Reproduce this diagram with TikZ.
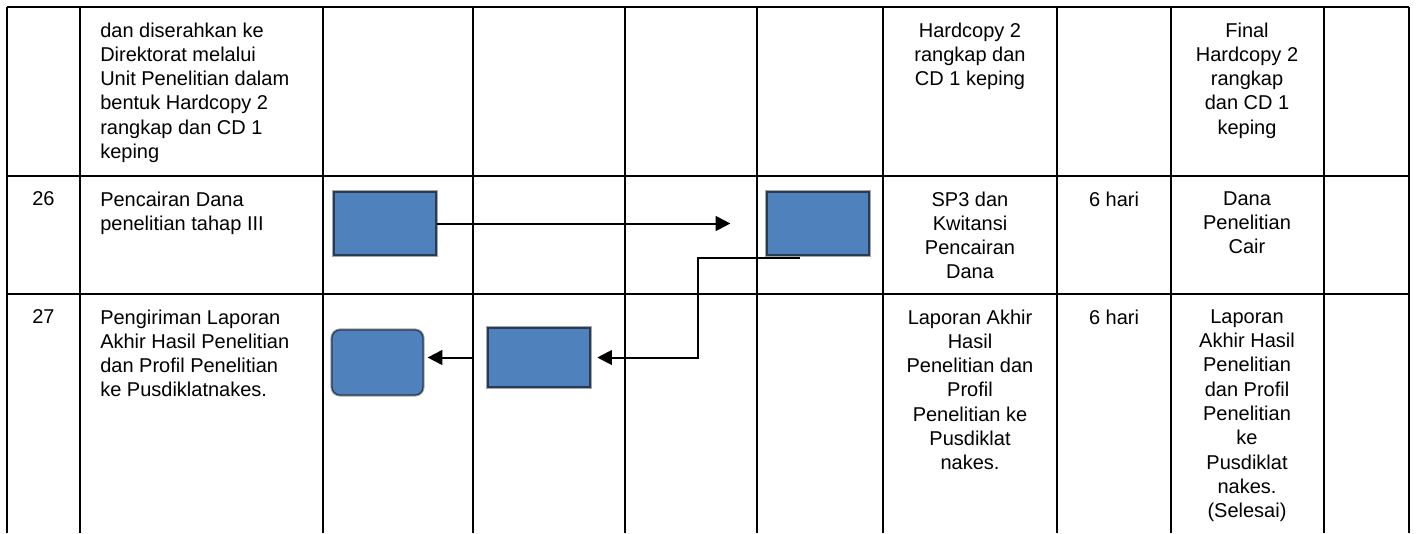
\documentclass[tikz,border=0pt]{standalone}
\usepackage{fontspec}
\setmainfont{Liberation Sans}
\usetikzlibrary{arrows.meta}

\definecolor{prosesfill}{RGB}{79,129,189}
\definecolor{prosesline}{RGB}{40,58,84}

\tikzset{
  tabel/.style={line width=1.9pt},
  teks/.style={inner sep=0pt, font=\fontsize{15}{18.2}\selectfont},
  proses/.style={draw=prosesline, fill=prosesfill, line width=0.9pt, inner sep=0pt,
    preaction={draw=black!35, line width=2.4pt},
    minimum width=76.5pt, minimum height=47.25pt},
  alur/.style={line width=1.5pt, -{Triangle[length=11pt,width=11pt]}},
}

\begin{document}
\begin{tikzpicture}[x=0.75pt,y=0.75pt,yscale=-1,xscale=1]
		\useasboundingbox (0,0) rectangle (1416,533);
		
		%Straight Lines: row borders
		\draw [tabel] (7,7) -- (1409,7) ;
		\draw [tabel] (7,176) -- (1409,176) ;
		\draw [tabel] (7,294) -- (1409,294) ;
		%Straight Lines: column borders
		\draw [tabel] (7,7) -- (7,533) ;
		\draw [tabel] (80,7) -- (80,533) ;
		\draw [tabel] (323,7) -- (323,533) ;
		\draw [tabel] (473,7) -- (473,533) ;
		\draw [tabel] (625,7) -- (625,533) ;
		\draw [tabel] (757,7) -- (757,533) ;
		\draw [tabel] (883,7) -- (883,533) ;
		\draw [tabel] (1057,7) -- (1057,533) ;
		\draw [tabel] (1171,7) -- (1171,533) ;
		\draw [tabel] (1324,7) -- (1324,533) ;
		\draw [tabel] (1409,7) -- (1409,533) ;
		
		%Shape: Rectangle (pencairan, unit)
		\node [proses] (cairA) at (385,223.5) {};
		%Shape: Rectangle (pencairan, keuangan)
		\node [proses] (cairB) at (818,223.5) {};
		%Shape: Rectangle (pengiriman)
		\node [proses, minimum height=44.25pt] (kirim) at (539,357.5) {};
		%Shape: Rounded Rectangle (selesai)
		\node [proses, rounded corners=6pt, minimum width=68.25pt, minimum height=48.75pt] (selesai) at (377.5,362.5) {};
		
		%Connectors
		\coordinate (turunA) at (800,258);
		\coordinate (turunB) at (698,258);
		\draw [alur, shorten >=27pt] (cairA) -- (cairB) ;
		\draw [alur, shorten >=5pt] (turunA) -- (turunB) |- (kirim.east) ;
		\draw [alur, shorten <=9.75pt, shorten >=3pt] (kirim.west) -- (kirim.west -| selesai.east) ;
		
		% Text Node
		\node [teks, anchor=north west, align=left] (uraian25) at (100,22.4) {dan diserahkan ke\\Direktorat melalui\\Unit Penelitian dalam\\bentuk Hardcopy 2\\rangkap dan CD 1\\keping};
		% Text Node
		\node [teks, anchor=north, align=center] (syarat25) at (970,22.4) {Hardcopy 2\\rangkap dan\\CD 1 keping};
		% Text Node
		\node [teks, anchor=north, align=center] (hasil25) at (1247,22.4) {Final\\Hardcopy 2\\rangkap\\dan CD 1\\keping};
		
		% Text Node
		\node [teks, anchor=north] (no26) at (43.5,191.4) {26};
		% Text Node
		\node [teks, anchor=north west, align=left] (uraian26) at (100,191.4) {Pencairan Dana\\penelitian tahap III};
		% Text Node
		\node [teks, anchor=north, align=center] (syarat26) at (970,191.4) {SP3 dan\\Kwitansi\\Pencairan\\Dana};
		% Text Node
		\node [teks, anchor=north] (waktu26) at (1114,191.4) {6 hari};
		% Text Node
		\node [teks, anchor=north, align=center] (hasil26) at (1247,191.4) {Dana\\Penelitian\\Cair};
		
		% Text Node
		\node [teks, anchor=north] (no27) at (43.5,309.4) {27};
		% Text Node
		\node [teks, anchor=north west, align=left] (uraian27) at (100,309.4) {Pengiriman Laporan\\Akhir Hasil Penelitian\\dan Profil Penelitian\\ke Pusdiklatnakes.};
		% Text Node
		\node [teks, anchor=north, align=center] (syarat27) at (970,309.4) {Laporan Akhir\\Hasil\\Penelitian dan\\Profil\\Penelitian ke\\Pusdiklat\\nakes.};
		% Text Node
		\node [teks, anchor=north] (waktu27) at (1114,309.4) {6 hari};
		% Text Node
		\node [teks, anchor=north, align=center] (hasil27) at (1247,309.4) {Laporan\\Akhir Hasil\\Penelitian\\dan Profil\\Penelitian\\ke\\Pusdiklat\\nakes.\\(Selesai)};
		
	\end{tikzpicture}
\end{document}
